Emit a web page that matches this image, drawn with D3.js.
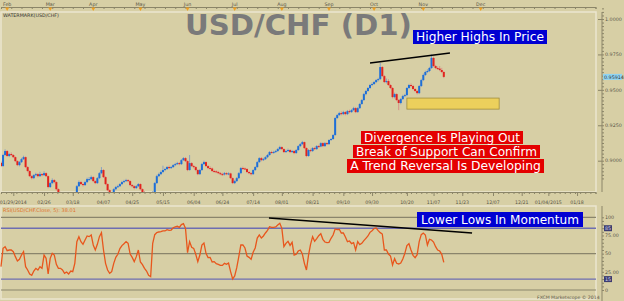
<!DOCTYPE html>
<html>
<head>
<meta charset="utf-8">
<script src="https://cdn.jsdelivr.net/npm/d3@7"></script>
<style>
  body { margin: 0; background: #d7cfa5; }
</style>
</head>
<body>
<div id="chart"></div>
<script>
// price data, pips x 10000
const firstOpen = 8985;
const closes = [8962,9040,9068,9033,9047,9040,9025,8997,8969,8990,
  9011,9025,8955,8927,8891,8877,8898,8905,8891,8905,
  8898,8912,8891,8814,8842,8863,8849,8799,8771,8757,
  8736,8701,8715,8694,8722,8715,8764,8820,8849,8835,
  8828,8849,8870,8870,8884,8856,8842,8877,8912,8934,
  8884,8835,8792,8757,8771,8799,8814,8820,8835,8849,
  8856,8863,8856,8828,8820,8807,8820,8835,8799,8778,
  8750,8729,8701,8687,8778,8842,8891,8905,8920,8934,
  8941,8955,8948,8955,8969,8976,8983,8976,9004,9018,
  8997,8934,8983,8962,8955,8934,8905,8934,8976,8990,
  8962,8948,8945,8927,8925,8920,8912,8905,8903,8912,
  8905,8910,8877,8842,8856,8877,8912,8948,8945,8941,
  8920,8912,8905,8934,8955,8990,9018,9004,9011,9025,
  9040,9061,9058,9061,9068,9082,9096,9082,9061,9068,
  9075,9061,9068,9054,9075,9103,9117,9131,9089,9033,
  9075,9068,9089,9082,9103,9100,9124,9103,9124,9117,
  9146,9153,9181,9301,9322,9336,9329,9343,9329,9350,
  9343,9357,9371,9343,9371,9400,9428,9470,9492,9513,
  9534,9541,9555,9569,9576,9661,9597,9555,9562,9534,
  9513,9449,9470,9428,9407,9435,9456,9463,9513,9534,
  9527,9506,9492,9477,9527,9569,9605,9626,9633,9654,
  9725,9668,9654,9650,9640,9626,9591.4];
const highs = [8995,9048,9080,9075,9055,9058,9046,9030,9003,8998,
  9020,9035,9030,8962,8933,8898,8905,8915,8912,8922,
  8912,8925,8918,8896,8850,8875,8870,8855,8805,8780,
  8765,8742,8725,8722,8730,8735,8770,8828,8860,8857,
  8845,8858,8880,8885,8895,8890,8862,8885,8920,8955,
  8940,8890,8840,8798,8780,8806,8822,8830,8842,8858,
  8865,8872,8870,8862,8835,8826,8828,8842,8840,8805,
  8785,8756,8735,8708,8785,8850,8900,8915,8930,8965,
  8950,8962,8965,8963,8976,8985,8992,8990,9012,9025,
  9025,9003,9040,8990,8970,8962,8940,8942,8984,9000,
  8996,8970,8960,8952,8936,8932,8928,8920,8915,8920,
  8918,8918,8915,8882,8865,8885,8920,8955,8958,8952,
  8948,8928,8920,8940,8962,8998,9025,9026,9020,9032,
  9048,9068,9070,9070,9076,9090,9105,9102,9088,9078,
  9085,9082,9076,9075,9082,9110,9125,9140,9135,9095,
  9082,9085,9096,9098,9110,9112,9130,9130,9132,9130,
  9152,9160,9188,9310,9330,9345,9348,9352,9350,9358,
  9360,9365,9380,9378,9378,9408,9435,9478,9500,9520,
  9542,9552,9562,9576,9585,9690,9668,9605,9580,9575,
  9540,9520,9480,9476,9435,9442,9465,9472,9520,9542,
  9545,9535,9512,9500,9535,9578,9615,9635,9645,9662,
  9750,9735,9676,9665,9668,9655,9632];
const lows = [8955,8958,9035,9028,9025,9032,9018,8990,8962,8960,
  8984,9005,8948,8918,8885,8868,8870,8890,8882,8885,
  8890,8892,8884,8805,8808,8835,8840,8790,8762,8745,
  8728,8699,8695,8690,8688,8708,8710,8758,8815,8828,
  8818,8822,8842,8860,8862,8848,8835,8836,8870,8905,
  8878,8828,8785,8750,8750,8765,8792,8808,8815,8828,
  8842,8850,8848,8820,8812,8798,8800,8814,8792,8770,
  8742,8720,8695,8680,8682,8772,8836,8884,8898,8912,
  8926,8935,8940,8942,8950,8962,8970,8968,8970,8998,
  8990,8926,8930,8955,8946,8925,8898,8900,8928,8970,
  8955,8940,8938,8920,8916,8912,8905,8898,8895,8896,
  8898,8898,8870,8835,8835,8850,8870,8905,8936,8934,
  8912,8905,8896,8900,8928,8950,8985,8996,8998,9005,
  9018,9035,9050,9050,9055,9062,9075,9075,9054,9055,
  9062,9054,9055,9046,9048,9070,9096,9110,9082,9025,
  9028,9060,9062,9075,9076,9092,9095,9096,9098,9110,
  9112,9140,9148,9176,9295,9315,9320,9322,9320,9322,
  9335,9338,9350,9336,9338,9365,9395,9422,9462,9486,
  9506,9526,9535,9548,9560,9570,9590,9548,9545,9528,
  9505,9440,9440,9420,9357,9398,9428,9448,9455,9505,
  9518,9498,9484,9468,9470,9520,9562,9598,9618,9625,
  9648,9660,9646,9640,9632,9618,9583];

// RSI(5) per bar
const rsi = [32.1,57.3,59.6,54.1,55.0,55.0,52.7,45.9,39.9,42.2,
  48.1,52.7,32.1,27.5,22.0,20.2,26.1,29.8,27.5,32.1,
  29.8,48.1,43.6,22.0,43.6,50.4,48.1,35.3,29.8,29.8,
  27.5,22.9,24.8,22.0,26.1,25.2,36.7,66.5,73.4,66.5,
  62.8,68.8,74.3,73.4,75.7,61.9,55.0,62.8,73.4,78.9,
  55.0,36.7,27.5,22.9,25.2,36.7,44.9,49.1,56.9,61.0,
  63.7,66.5,64.2,49.5,44.9,39.0,45.9,55.0,38.5,34.9,
  29.8,26.1,20.2,18.3,64.2,76.1,78.9,79.8,80.2,81.2,
  81.2,83.0,82.1,82.5,85.7,86.7,87.6,86.2,89.9,91.2,
  84.8,51.4,66.5,58.7,57.3,49.1,39.0,48.1,61.9,64.7,
  50.4,44.5,44.9,38.5,39.0,36.2,35.3,33.9,33.9,36.7,
  35.3,37.1,25.2,15.1,19.3,30.7,45.9,61.9,61.9,57.8,
  46.8,44.9,42.2,51.8,57.8,71.5,75.7,71.5,74.3,78.4,
  82.1,87.1,86.2,86.2,86.7,89.4,91.7,84.8,59.6,64.2,
  67.0,61.4,65.6,48.1,49.1,53.6,55.0,49.5,36.7,27.5,
  47.7,62.8,73.4,67.0,70.6,74.7,77.5,69.7,66.0,65.1,
  65.6,71.1,75.7,83.9,83.0,83.5,78.4,78.4,72.9,66.5,
  67.4,63.7,65.1,55.0,66.5,62.4,64.2,67.9,71.1,74.3,
  79.3,81.6,84.4,85.3,81.6,78.9,77.0,55.0,55.0,49.5,
  46.8,34.4,43.1,36.7,35.8,37.1,42.6,50.4,61.0,63.7,
  55.0,47.7,44.5,48.6,66.5,76.1,78.4,75.7,61.9,69.7,
  68.8,66.0,59.6,55.0,53.6,49.1,38.01];

// axis ticks (bar index) and labels
const dateTicks = [6,21,35,50,64,79,94,108,123,137,152,167,181,198,211,225,240,254,267,281];
const dateLabels = ['01/29/2014','02/26','03/18','04/07','04/25','05/15','06/04','06/24','07/14','08/01',
  '08/21','09/10','09/30','10/20','11/07','11/23','12/07','12/21','01/04/2015','01/18'];
const monthTicks = [3,24,45,68,91,114,137,160,182,206,234];
const monthLabels = ['Feb','Mar','Apr','May','Jun','Jul','Aug','Sep','Oct','Nov','Dec'];
const priceTicks = [0.9, 0.925, 0.95, 0.975, 1.0];
const rsiTicks = [100, 75, 50, 25, 0];
const rsiTickLabels = ['100', '75.00', '50', '25.00', '0'];
const rsiLevels = [85, 15];

// annotations
const priceTrend = [{i: 180, v: 0.9689}, {i: 219, v: 0.9760}];
const rsiTrend = [{i: 130.7, v: 99}, {i: 229.8, v: 78.4}];
const supportZone = {i0: 198, i1: 243, top: 0.9442, bottom: 0.9364};

const W = 624, H = 301;
const svg = d3.select('#chart').append('svg')
  .attr('width', W).attr('height', H)
  .style('font-family', '"DejaVu Sans", Verdana, sans-serif');

svg.append('rect').attr('width', W).attr('height', H).attr('fill', '#d7cfa5');

const x = d3.scaleLinear().domain([0, 290]).range([1, 595.5]);
const yP = d3.scaleLinear().domain([0.9, 1.0]).range([160.7, 19]);
const yR = d3.scaleLinear().domain([0, 100]).range([290, 217.3]);

const frameCol = '#ebe6cf', axisCol = '#8b8568', textCol = '#5a5648';

// frames
svg.append('rect').attr('x', 1).attr('y', 12).attr('width', 595).attr('height', 180)
  .attr('fill', 'none').attr('stroke', frameCol).attr('stroke-width', 1.5);
svg.append('rect').attr('x', 1).attr('y', 206).attr('width', 595).attr('height', 93)
  .attr('fill', 'none').attr('stroke', frameCol).attr('stroke-width', 1.5);

// top month axis
const topAxis = svg.append('g').attr('transform', 'translate(0,7)')
  .call(d3.axisBottom(x).tickValues(d3.range(0, 291, 5)).tickSize(2).tickFormat(''));
topAxis.select('.domain').attr('stroke', axisCol);
topAxis.selectAll('.tick line').attr('stroke', axisCol);
svg.append('g').selectAll('text').data(monthTicks).join('text')
  .attr('x', d => x(d)).attr('y', 5.5).attr('text-anchor', 'middle')
  .attr('font-size', 4.8).attr('fill', textCol)
  .text((d, i) => monthLabels[i]);
svg.append('g').selectAll('path').data(monthTicks).join('path')
  .attr('d', d => `M${x(d) - 2},7.5L${x(d) + 2},7.5L${x(d)},11Z`)
  .attr('fill', '#f0a020');

// watermark + title
svg.append('text').attr('x', 3).attr('y', 17).attr('font-size', 4.8).attr('fill', '#333')
  .text('WATERMARK(USD/CHF)');
const title = svg.append('text').attr('x', 185).attr('y', 35)
  .attr('font-size', 29).attr('font-weight', 'bold').attr('fill', '#7a7a7a')
  .text('USD/CHF (D1)');
title.attr('font-size', 29 * 227 / title.node().getComputedTextLength());

// price candles
svg.append('clipPath').attr('id', 'clipP').append('rect')
  .attr('x', 1).attr('y', 12).attr('width', 595).attr('height', 180);
const bars = closes.map((c, i) => ({
  i, o: (i ? closes[i - 1] : firstOpen) / 1e4, c: c / 1e4, h: highs[i] / 1e4, l: lows[i] / 1e4
}));
const gP = svg.append('g').attr('clip-path', 'url(#clipP)');
gP.selectAll('line.wick').data(bars).join('line').attr('class', 'wick')
  .attr('x1', d => x(d.i)).attr('x2', d => x(d.i))
  .attr('y1', d => yP(d.h)).attr('y2', d => yP(d.l))
  .attr('stroke', d => d.c >= d.o ? '#7f9cc6' : '#d98b86').attr('stroke-width', 0.9);
gP.selectAll('rect.body').data(bars).join('rect').attr('class', 'body')
  .attr('x', d => x(d.i) - 1).attr('width', 2)
  .attr('y', d => yP(Math.max(d.o, d.c)))
  .attr('height', d => Math.max(1, Math.abs(yP(d.o) - yP(d.c))))
  .attr('fill', d => d.c >= d.o ? '#1d6fd8' : '#e2231d');

// support zone and price trend line
gP.append('rect')
  .attr('x', x(supportZone.i0)).attr('width', x(supportZone.i1) - x(supportZone.i0))
  .attr('y', yP(supportZone.top)).attr('height', yP(supportZone.bottom) - yP(supportZone.top))
  .attr('fill', '#ecd05c').attr('stroke', '#a08c3c').attr('stroke-width', 0.8);
gP.append('path').datum(priceTrend)
  .attr('d', d3.line().x(d => x(d.i)).y(d => yP(d.v)))
  .attr('stroke', '#000').attr('stroke-width', 1.4).attr('fill', 'none');

// price right axis
const pAxisX = 602;
const pMinor = svg.append('g').attr('transform', `translate(${pAxisX},0)`)
  .call(d3.axisRight(yP).tickValues(d3.range(0.8875, 1.0076, 0.0025)).tickSize(2).tickFormat(''));
pMinor.select('.domain').attr('stroke', axisCol).attr('d', 'M0,12V192');
pMinor.selectAll('.tick line').attr('stroke', axisCol);
const pMajor = svg.append('g').attr('transform', `translate(${pAxisX},0)`)
  .call(d3.axisLeft(yP).tickValues(priceTicks).tickSize(4).tickFormat(''));
pMajor.select('.domain').remove();
pMajor.selectAll('.tick line').attr('stroke', axisCol);
svg.append('g').selectAll('text').data(priceTicks).join('text')
  .attr('x', pAxisX + 3).attr('y', d => yP(d) + 1.7)
  .attr('font-size', 4.8).attr('fill', textCol)
  .text(d => d3.format('.4f')(d));
// last price marker
const lastP = closes[closes.length - 1] / 1e4;
svg.append('rect').attr('x', pAxisX + 1).attr('y', yP(lastP) - 3).attr('width', 19).attr('height', 6)
  .attr('fill', '#8fd4f2');
svg.append('text').attr('x', pAxisX + 2).attr('y', yP(lastP) + 1.7)
  .attr('font-size', 4.8).attr('fill', '#333').text(d3.format('.5f')(lastP));

// date axis
const dAxis = svg.append('g').attr('transform', 'translate(0,192)')
  .call(d3.axisBottom(x).tickValues(d3.range(0, 291, 2.5)).tickSize(2).tickFormat(''));
dAxis.select('.domain').attr('stroke', axisCol);
dAxis.selectAll('.tick line').attr('stroke', axisCol);
const dMajor = svg.append('g').attr('transform', 'translate(0,192)')
  .call(d3.axisBottom(x).tickValues(dateTicks).tickSize(4).tickFormat(''));
dMajor.select('.domain').remove();
dMajor.selectAll('.tick line').attr('stroke', axisCol);
svg.append('g').selectAll('text').data(dateTicks).join('text')
  .attr('x', d => x(d)).attr('y', 203.5).attr('text-anchor', 'middle')
  .attr('font-size', 4.7).attr('fill', textCol)
  .text((d, i) => dateLabels[i]);

// RSI panel
svg.append('text').attr('x', 3).attr('y', 212).attr('font-size', 5).attr('fill', '#e0702c')
  .text('RSI(USD/CHF.Close, 5): 38.01');
const gR = svg.append('g');
gR.selectAll('line.lvl').data([100, 50, 0]).join('line').attr('class', 'lvl')
  .attr('x1', 1).attr('x2', 596).attr('y1', d => yR(d)).attr('y2', d => yR(d))
  .attr('stroke', '#8a856c').attr('stroke-width', 1.2);
gR.selectAll('line.ob').data(rsiLevels).join('line').attr('class', 'ob')
  .attr('x1', 1).attr('x2', 596).attr('y1', d => yR(d)).attr('y2', d => yR(d))
  .attr('stroke', '#6e6eb2').attr('stroke-width', 1.4);
gR.append('path').datum(rsi)
  .attr('d', d3.line().x((d, i) => x(i)).y(d => yR(d)))
  .attr('fill', 'none').attr('stroke', '#e8561c').attr('stroke-width', 1.3);
gR.append('path').datum(rsiTrend)
  .attr('d', d3.line().x(d => x(d.i)).y(d => yR(d.v)))
  .attr('stroke', '#000').attr('stroke-width', 1.4).attr('fill', 'none');

// RSI right axis
const rAxis = svg.append('g').attr('transform', `translate(${pAxisX},0)`)
  .call(d3.axisRight(yR).tickValues(d3.range(0, 101, 5)).tickSize(2).tickFormat(''));
rAxis.select('.domain').attr('stroke', axisCol).attr('d', 'M0,206V301');
rAxis.selectAll('.tick line').attr('stroke', axisCol);
svg.append('g').selectAll('text').data(rsiTicks).join('text')
  .attr('x', pAxisX + 3).attr('y', d => yR(d) + 1.7)
  .attr('font-size', 4.8).attr('fill', textCol)
  .text((d, i) => rsiTickLabels[i]);
svg.append('g').selectAll('rect').data(rsiLevels).join('rect')
  .attr('x', pAxisX + 2).attr('y', d => yR(d) - 3).attr('width', 8).attr('height', 6)
  .attr('fill', '#3c3c70');
svg.append('g').selectAll('text').data(rsiLevels).join('text')
  .attr('x', pAxisX + 3).attr('y', d => yR(d) + 1.7)
  .attr('font-size', 4.8).attr('fill', '#d8d8ee').text(d => d);

svg.append('text').attr('x', 537).attr('y', 299).attr('font-size', 4.6).attr('fill', textCol)
  .text('FXCM Marketscope \u00a9 2014');

// callout boxes
const callouts = [
  {text: 'Higher Highs In Price', x: 413, y: 30, w: 134, h: 14, tw: 128, fill: '#0000d2'},
  {text: 'Lower Lows In Momentum', x: 417, y: 212, w: 166, h: 15, tw: 158, fill: '#0000d2'},
  {text: 'Divergence Is Playing Out', x: 361, y: 131, w: 162, h: 13, tw: 156, fill: '#e40000'},
  {text: 'Break of Support Can Confirm', x: 353, y: 145, w: 187, h: 13, tw: 181, fill: '#e40000'},
  {text: 'A Trend Reversal Is Developing', x: 347, y: 159, w: 197, h: 14, tw: 191, fill: '#e40000'}
];
callouts.forEach(c => {
  const g = svg.append('g');
  g.append('rect').attr('x', c.x).attr('y', c.y).attr('width', c.w).attr('height', c.h).attr('fill', c.fill);
  const t = g.append('text').attr('x', c.x + c.w / 2).attr('y', c.y + c.h * 0.5)
    .attr('text-anchor', 'middle').attr('dominant-baseline', 'central')
    .attr('font-size', 12).attr('fill', '#fff').text(c.text);
  t.attr('font-size', 12 * c.tw / t.node().getComputedTextLength());
});
</script>
</body>
</html>
